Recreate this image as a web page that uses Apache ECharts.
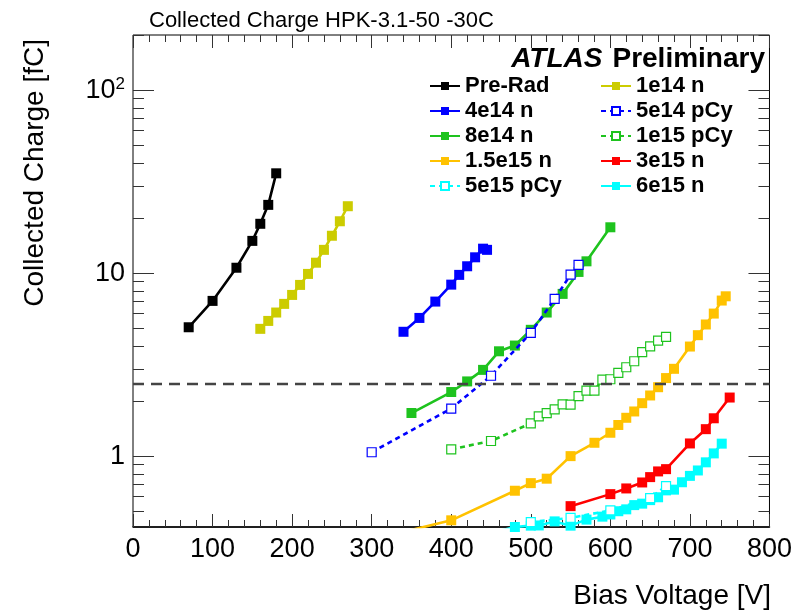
<!DOCTYPE html>
<html><head><meta charset="utf-8">
<script src="https://cdn.jsdelivr.net/npm/echarts@6/dist/echarts.min.js"></script>
<style>html,body{margin:0;padding:0;background:#fff}#c{width:795px;height:614px}</style>
</head><body><div id="c"></div>
<script>
// ---- data (bias voltage [V], collected charge [fC]) ----
const preRadV = [70,100,130,150,160,170,180];
const preRadQ = [5.06,7.05,10.7,15.0,18.6,23.6,35.1];
const n1e14V = [160,170,180,190,200,210,220,230,240,250,260,270];
const n1e14Q = [4.96,5.48,6.09,6.79,7.60,8.62,9.90,11.4,13.4,16.0,19.2,23.2];
const n4e14V = [340,360,380,400,410,420,430,440,445];
const n4e14Q = [4.78,5.69,6.99,8.65,9.78,10.9,12.2,13.6,13.4];
const p5e14V = [300,400,450,500,530,550,560];
const p5e14Q = [1.05,1.82,2.75,4.72,7.23,9.8,11.1];
const n8e14V = [350,400,420,440,460,480,500,520,540,560,570,600];
const n8e14Q = [1.72,2.24,2.56,2.96,3.74,4.02,4.90,6.09,7.70,10.15,11.6,17.8];
const p1e15V = [400,450,500,510,520,530,540,550,560,570,580,590,600,610,620,630,640,650,660,670];
const p1e15Q = [1.09,1.21,1.51,1.65,1.72,1.80,1.92,1.91,2.13,2.28,2.28,2.62,2.63,2.85,3.06,3.30,3.70,3.98,4.28,4.48];
const n15e15V = [300,400,480,500,520,550,580,600,610,620,630,640,650,660,670,680,700,710,720,730,740,745];
const n15e15Q = [0.35,0.446,0.647,0.712,0.753,1.0,1.183,1.342,1.48,1.62,1.754,1.947,2.145,2.38,2.67,3.0,3.97,4.58,5.24,6.01,7.08,7.47];
const n3e15V = [550,600,620,640,650,660,670,700,720,730,750];
const n3e15Q = [0.533,0.620,0.666,0.718,0.768,0.825,0.849,1.173,1.404,1.61,2.09];
const p5e15V = [500,550,600,650,670];
const p5e15Q = [0.436,0.46,0.505,0.59,0.686];
const n6e15V = [450,480,500,510,530,550,570,590,600,610,620,630,640,650,660,670,680,690,700,710,720,730,740];
const n6e15Q = [0.38,0.41,0.417,0.418,0.44,0.417,0.45,0.467,0.48,0.50,0.512,0.54,0.55,0.575,0.596,0.65,0.656,0.72,0.78,0.835,0.925,1.035,1.17];
const threshold = 2.5;
const xTicks = [0,100,200,300,400,500,600,700,800];
const yMajor = [1,10,100];
const yMinor = [0.5,0.6,0.7,0.8,0.9,2,3,4,5,6,7,8,9,20,30,40,50,60,70,80,90,200];

const FONT = 'Liberation Sans, Arial, sans-serif';
const zip = (a,b)=>a.map((v,i)=>[v,b[i]]);

function mk(name, V, Q, color, open, extra){
  const s = {
    name, type:'line', data: zip(V,Q), symbol:'rect', symbolSize: open ? 9 : 10,
    lineStyle:{color, width:2.6, type: open ? [5,4] : 'solid'},
    itemStyle: open ? {color:'#fff', borderColor: color, borderWidth: 1.2} : {color},
    emphasis:{disabled:true}, clip:true, z: open ? 3 : 2
  };
  return Object.assign(s, extra||{});
}

const series = [
  mk('Pre-Rad', preRadV, preRadQ, '#000000', false),
  mk('1e14 n', n1e14V, n1e14Q, '#cccc00', false),
  mk('4e14 n', n4e14V, n4e14Q, '#0000ff', false),
  mk('5e14 pCy', p5e14V, p5e14Q, '#0000ff', true),
  mk('8e14 n', n8e14V, n8e14Q, '#1ec31e', false),
  mk('1e15 pCy', p1e15V, p1e15Q, '#1ec31e', true),
  mk('1.5e15 n', n15e15V, n15e15Q, '#ffc200', false, {
    markLine:{silent:true, symbol:'none', label:{show:false},
      lineStyle:{color:'#444', width:2.4, type:[11,7]}, data:[{yAxis: threshold}]}
  }),
  mk('3e15 n', n3e15V, n3e15Q, '#ff0000', false),
  mk('5e15 pCy', p5e15V, p5e15Q, '#00ffff', true),
  mk('6e15 n', n6e15V, n6e15Q, '#00ffff', false)
];

const legendCommon = {orient:'vertical', itemWidth:30, itemHeight:10, itemGap:3,
  textStyle:{fontFamily:FONT, fontWeight:'bold', fontSize:22, color:'#000'},
  selectedMode:false};

const yBase = {type:'log', min:0.41, max:200, logBase:10, splitLine:{show:false}, axisLine:{show:false}};
const xBase = {type:'value', min:0, max:800, interval:100, splitLine:{show:false}};

const option = {
  animation:false,
  backgroundColor:'#fff',
  title:[
    {text:'Collected Charge HPK-3.1-50 -30C', left:144, top:5,
     textStyle:{fontFamily:FONT, fontWeight:'normal', fontSize:22, color:'#000'}},
    {text:'{a|ATLAS}  {b|Preliminary}', right:25, top:40,
     textStyle:{rich:{a:{fontFamily:FONT, fontWeight:'bold', fontStyle:'italic', fontSize:28, color:'#000'},
                      b:{fontFamily:FONT, fontSize:28, color:'#000'}}}}
  ],
  legend:[
    Object.assign({left:424, top:70, data:['Pre-Rad','4e14 n','8e14 n','1.5e15 n','5e15 pCy']}, legendCommon),
    Object.assign({left:595, top:70, data:['1e14 n','5e14 pCy','1e15 pCy','3e15 n','6e15 n']}, legendCommon)
  ],
  grid:{left:133, right:24, top:35, bottom:87, show:true, borderColor:'#000', borderWidth:1, containLabel:false},
  xAxis:[
    Object.assign({}, xBase, {position:'bottom',
      axisLine:{show:true, lineStyle:{color:'#000', width:1.5}},
      axisTick:{show:true, inside:true, length:13, lineStyle:{color:'#333'}},
      minorTick:{show:true, splitNumber:5, length:7, lineStyle:{color:'#333'}},
      axisLabel:{fontFamily:FONT, fontSize:27, color:'#000', margin:9, customValues: xTicks}}),
    Object.assign({}, xBase, {position:'top',
      axisLine:{show:false},
      axisTick:{show:true, inside:true, length:13, lineStyle:{color:'#333'}},
      minorTick:{show:true, splitNumber:5, length:7, lineStyle:{color:'#333'}},
      axisLabel:{show:false}})
  ],
  yAxis:[
    Object.assign({}, yBase, {position:'left',
      axisTick:{show:true, inside:true, length:21, customValues: yMajor, lineStyle:{color:'#333'}},
      axisLabel:{show:true, customValues: yMajor, margin:8, fontFamily:FONT, fontSize:27, color:'#000',
        formatter: v => (Math.abs(v-100)<1e-6 ? '{b|10}{s|2}' : String(Math.round(v))),
        rich:{b:{fontFamily:FONT, fontSize:27, color:'#000'}, s:{fontFamily:FONT, fontSize:17, color:'#000', verticalAlign:'top', padding:[0,0,12,0]}}}}),
    Object.assign({}, yBase, {position:'left',
      axisTick:{show:true, inside:true, length:11, customValues: yMinor, lineStyle:{color:'#333'}},
      axisLabel:{show:false}}),
    Object.assign({}, yBase, {position:'right',
      axisTick:{show:true, inside:true, length:21, customValues: yMajor, lineStyle:{color:'#333'}},
      axisLabel:{show:false}}),
    Object.assign({}, yBase, {position:'right',
      axisTick:{show:true, inside:true, length:11, customValues: yMinor, lineStyle:{color:'#333'}},
      axisLabel:{show:false}})
  ],
  series: series,
  graphic:[
    {type:'text', x:35, y:39, rotation:Math.PI/2,
     style:{text:'Collected Charge [fC]', font:'28px '+FONT, fill:'#000', textAlign:'right', textVerticalAlign:'middle'}},
    {type:'text', x:771, y:596,
     style:{text:'Bias Voltage [V]', font:'28px '+FONT, fill:'#000', textAlign:'right', textVerticalAlign:'middle'}}
  ]
};

const chart = echarts.init(document.getElementById('c'), null, {renderer:'canvas'});
chart.setOption(option);
</script>
</body></html>
